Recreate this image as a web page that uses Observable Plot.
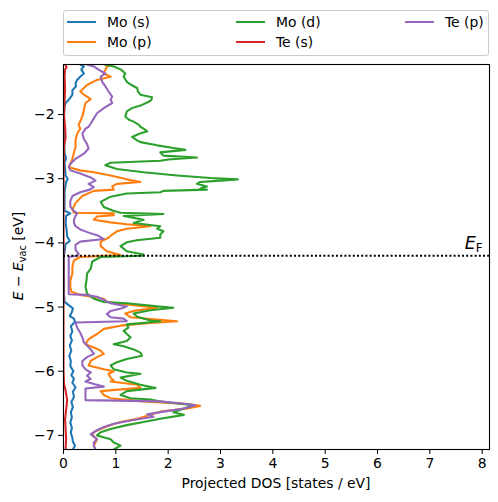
<!DOCTYPE html>
<html><head><meta charset="utf-8">
<script src="https://cdn.jsdelivr.net/npm/d3@7"></script>
<script src="https://cdn.jsdelivr.net/npm/@observablehq/plot@0.6"></script>
<style>
body{margin:0;background:#fff;font-family:"DejaVu Sans",sans-serif;}
#legend{position:relative;width:498px;height:60px;font-size:13.9px;color:#000;}
#box{position:absolute;left:63px;top:10px;width:424px;height:44px;border:1px solid #cccccc;border-radius:3px;}
.sw{position:absolute;height:0;width:29px;border-top:2px solid;}
.lb{position:absolute;line-height:16px;white-space:nowrap;}
#chart svg{display:block;}
</style></head><body>
<div id="legend"><div id="box"></div></div>
<div id="chart"></div>
<script>
// ---- data (energies in eV, DOS in states/eV) ----
const seriesNames = ["Mo (s)", "Mo (p)", "Mo (d)", "Te (s)", "Te (p)"];
const seriesColors = ["#1f77b4", "#ff7f0e", "#2ca02c", "#d62728", "#9467bd"];
const xTicks = [0, 1, 2, 3, 4, 5, 6, 7, 8];
const yTicks = [-7, -6, -5, -4, -3, -2];
const fermiLevel = -4.20;

const moS_E = [-1.22,-1.25,-1.30,-1.36,-1.41,-1.46,-1.51,-1.56,-1.62,-1.69,-1.77,-1.82,-1.88,-2.0,-2.3,-2.6,-2.68,-2.75,-2.95,-3.0,-3.05,-3.2,-3.5,-3.54,-3.58,-3.7,-3.8,-3.9,-3.97,-4.02,-4.2,-4.8,-4.92,-4.97,-5.02,-5.08,-5.14,-5.18,-5.23,-5.30,-5.38,-5.45,-5.52,-5.60,-5.68,-5.76,-5.84,-5.92,-6.00,-6.06,-6.12,-6.18,-6.25,-6.32,-6.40,-6.48,-6.56,-6.64,-6.72,-6.80,-6.88,-6.96,-7.04,-7.10,-7.16,-7.22];
const moS_dos = [0.32,0.39,0.34,0.39,0.32,0.26,0.23,0.24,0.17,0.17,0.10,0.04,0.02,0.01,0.01,0.02,0.05,0.02,0.04,0.08,0.05,0.02,0.02,0.13,0.05,0.04,0.06,0.07,0.12,0.04,0.01,0.01,0.02,0.10,0.18,0.16,0.12,0.20,0.22,0.14,0.17,0.13,0.16,0.12,0.15,0.11,0.14,0.13,0.19,0.15,0.20,0.17,0.23,0.18,0.20,0.15,0.18,0.14,0.16,0.13,0.16,0.14,0.17,0.18,0.22,0.18];

const moP_E = [-1.22,-1.25,-1.30,-1.36,-1.41,-1.46,-1.54,-1.64,-1.69,-1.76,-1.82,-1.93,-2.03,-2.16,-2.22,-2.30,-2.40,-2.51,-2.59,-2.69,-2.77,-2.82,-2.87,-2.90,-2.95,-3.01,-3.05,-3.08,-3.12,-3.17,-3.19,-3.27,-3.38,-3.48,-3.53,-3.54,-3.57,-3.59,-3.64,-3.68,-3.71,-3.74,-3.78,-3.82,-3.87,-3.92,-3.98,-4.05,-4.13,-4.19,-4.22,-4.27,-4.37,-4.48,-4.58,-4.68,-4.76,-4.81,-4.87,-4.92,-4.97,-5.01,-5.06,-5.10,-5.16,-5.22,-5.25,-5.29,-5.34,-5.42,-5.50,-5.58,-5.63,-5.68,-5.73,-5.78,-5.84,-5.91,-5.97,-6.00,-6.04,-6.10,-6.15,-6.16,-6.21,-6.26,-6.31,-6.37,-6.42,-6.47,-6.51,-6.54,-6.58,-6.63,-6.68,-6.74,-6.79,-6.84,-6.90,-6.95,-7.00,-7.06,-7.11,-7.16,-7.22];
const moP_dos = [0.92,0.83,0.80,0.77,0.90,0.64,0.45,0.32,0.39,0.52,0.42,0.39,0.36,0.29,0.32,0.26,0.23,0.23,0.20,0.17,0.13,0.10,0.32,0.58,0.90,1.21,1.47,1.02,0.93,0.96,0.58,0.36,0.23,0.17,0.20,0.96,0.96,0.64,0.58,0.90,1.21,1.66,1.21,1.02,0.93,0.86,0.71,0.71,0.83,1.09,0.32,0.20,0.17,0.17,0.13,0.13,0.15,0.32,0.77,0.83,1.34,1.79,1.34,1.18,1.28,2.17,1.60,1.09,0.77,0.64,0.48,0.42,0.58,0.71,0.77,0.64,0.52,0.48,0.77,0.96,0.86,0.90,0.96,0.90,1.41,1.47,0.71,0.77,0.90,1.53,2.36,2.61,2.36,1.85,1.66,1.41,1.09,0.90,0.71,0.58,0.55,0.64,0.61,0.58,0.61];

const moD_E = [-1.22,-1.25,-1.30,-1.36,-1.41,-1.49,-1.54,-1.59,-1.64,-1.69,-1.73,-1.77,-1.80,-1.85,-1.90,-1.95,-2.03,-2.08,-2.11,-2.16,-2.19,-2.22,-2.26,-2.30,-2.35,-2.40,-2.43,-2.48,-2.52,-2.55,-2.59,-2.64,-2.67,-2.70,-2.72,-2.75,-2.79,-2.85,-2.90,-2.95,-2.99,-3.01,-3.03,-3.05,-3.08,-3.12,-3.14,-3.16,-3.17,-3.19,-3.21,-3.23,-3.28,-3.36,-3.44,-3.50,-3.53,-3.55,-3.58,-3.64,-3.69,-3.74,-3.78,-3.82,-3.87,-3.92,-3.96,-3.99,-4.05,-4.13,-4.18,-4.20,-4.22,-4.29,-4.40,-4.48,-4.58,-4.68,-4.79,-4.87,-4.92,-4.94,-4.99,-5.01,-5.05,-5.10,-5.15,-5.21,-5.22,-5.25,-5.27,-5.32,-5.37,-5.42,-5.47,-5.53,-5.58,-5.61,-5.66,-5.71,-5.76,-5.81,-5.86,-5.91,-5.97,-6.02,-6.04,-6.10,-6.15,-6.21,-6.26,-6.31,-6.37,-6.42,-6.44,-6.48,-6.53,-6.58,-6.64,-6.68,-6.74,-6.79,-6.84,-6.90,-6.95,-7.00,-7.06,-7.11,-7.16,-7.22];
const moD_dos = [0.78,0.96,1.10,1.18,1.15,1.21,1.30,1.41,1.42,1.47,1.69,1.68,1.63,1.50,1.31,1.21,1.18,1.25,1.34,1.44,1.47,1.53,1.60,1.45,1.31,1.40,1.47,1.79,2.10,2.33,1.85,1.91,2.55,2.00,1.85,0.90,0.80,1.02,1.53,2.17,2.81,3.33,3.00,2.61,2.55,2.74,2.65,2.61,2.74,1.91,1.85,1.21,0.90,0.71,0.77,0.95,1.09,1.91,1.15,1.53,1.34,1.85,1.79,1.91,1.85,1.85,1.40,1.21,1.09,1.21,1.53,1.50,0.71,0.55,0.52,0.45,0.44,0.42,0.45,0.58,0.77,1.21,1.79,2.10,1.66,1.34,1.41,1.66,1.85,1.50,1.21,1.24,1.15,1.21,1.28,1.21,0.96,1.15,1.34,1.47,1.50,1.21,1.02,0.90,0.96,1.21,1.47,1.09,1.21,1.47,1.76,1.21,1.09,1.28,1.66,1.91,2.49,2.30,2.10,2.30,1.85,1.53,1.21,0.90,0.71,0.64,0.90,0.96,1.09,0.96];

const teS_E = [-1.22,-1.26,-1.30,-1.40,-1.60,-1.80,-2.0,-2.2,-2.35,-2.5,-3.0,-4.0,-5.0,-6.0,-6.2,-6.3,-6.45,-6.6,-6.75,-6.9,-7.05,-7.22];
const teS_dos = [0.03,0.06,0.03,0.02,0.03,0.02,0.01,0.03,0.04,0.01,0.0,0.0,0.0,0.0,0.01,0.04,0.07,0.05,0.03,0.04,0.05,0.04];

const teP_E = [-1.22,-1.25,-1.30,-1.36,-1.41,-1.49,-1.56,-1.64,-1.72,-1.77,-1.82,-1.90,-1.98,-2.06,-2.14,-2.19,-2.22,-2.30,-2.38,-2.46,-2.53,-2.61,-2.69,-2.77,-2.82,-2.87,-2.92,-2.98,-3.03,-3.08,-3.13,-3.17,-3.21,-3.27,-3.35,-3.43,-3.48,-3.54,-3.58,-3.64,-3.69,-3.74,-3.79,-3.84,-3.89,-3.94,-3.98,-4.03,-4.11,-4.17,-4.20,-4.22,-4.32,-4.48,-4.63,-4.80,-4.81,-4.84,-4.89,-4.94,-4.99,-5.02,-5.06,-5.11,-5.16,-5.18,-5.22,-5.24,-5.32,-5.40,-5.47,-5.55,-5.60,-5.66,-5.73,-5.78,-5.84,-5.91,-5.97,-6.02,-6.07,-6.12,-6.16,-6.20,-6.24,-6.27,-6.37,-6.45,-6.47,-6.51,-6.53,-6.58,-6.63,-6.67,-6.71,-6.76,-6.82,-6.87,-6.92,-6.98,-7.02,-7.06,-7.11,-7.16,-7.22];
const teP_dos = [0.45,0.58,0.67,0.80,0.71,0.74,0.80,0.86,0.93,0.90,0.93,0.77,0.64,0.58,0.52,0.48,0.42,0.36,0.39,0.45,0.48,0.39,0.23,0.13,0.10,0.13,0.32,0.52,0.61,0.48,0.58,0.50,0.32,0.17,0.13,0.13,0.17,0.26,0.23,0.20,0.20,0.23,0.32,0.48,0.67,0.77,0.32,0.23,0.23,0.29,0.26,0.10,0.10,0.10,0.10,0.10,0.42,0.64,0.77,0.90,1.21,1.12,0.90,0.83,0.90,1.15,1.21,0.23,0.26,0.32,0.36,0.39,0.45,0.52,0.58,0.45,0.36,0.36,0.42,0.52,0.45,0.52,0.42,0.58,0.77,0.42,0.42,0.42,1.85,2.36,2.52,2.30,1.91,1.60,1.72,1.34,0.96,0.77,0.64,0.52,0.58,0.64,0.58,0.58,0.61];

// ---- build ----
const seriesE = [moS_E, moP_E, moD_E, teS_E, teP_E];
const seriesDos = [moS_dos, moP_dos, moD_dos, teS_dos, teP_dos];
const tables = seriesNames.map((n, k) => seriesE[k].map((e, i) => ({name: n, E: e, dos: seriesDos[k][i]})));

const minus = d => d < 0 ? "\u2212" + Math.abs(d) : String(d);

const plot = Plot.plot({
  width: 498, height: 442,
  marginTop: 4, marginBottom: 53, marginLeft: 63, marginRight: 9,
  style: {fontFamily: "DejaVu Sans", fontSize: "13.9px", color: "#000", background: "#fff", overflow: "visible"},
  x: {domain: [0, 8.14], label: null},
  y: {domain: [-7.22, -1.22], label: null},
  marks: [
    ...tables.map((t, k) => Plot.line(t, {x: "dos", y: "E", stroke: seriesColors[k], strokeWidth: 2.08, strokeLinejoin: "round", clip: "frame"})),
    Plot.ruleY([fermiLevel], {stroke: "#000", strokeWidth: 2.08, strokeDasharray: "2,2.2"}),
    Plot.frame({stroke: "#000", strokeWidth: 1.1}),
    Plot.axisX({ticks: xTicks, tickSize: 5, tickPadding: 4, tickFormat: minus, label: null}),
    Plot.axisY({ticks: yTicks, tickSize: 5, tickPadding: 4, tickFormat: minus, label: null})
  ]
});
document.getElementById("chart").appendChild(plot);

const svg = d3.select(plot);
const xs = plot.scale("x"), ys = plot.scale("y");

// x label
svg.append("text").attr("x", 276).attr("y", 428).attr("text-anchor", "middle")
  .attr("font-size", "13.9px").attr("fill", "#000").text("Projected DOS [states / eV]");

// y label
const yl = svg.append("text").attr("transform", "translate(23,196) rotate(-90)")
  .attr("text-anchor", "middle").attr("font-size", "13.9px").attr("fill", "#000");
yl.append("tspan").attr("font-style", "italic").text("E");
yl.append("tspan").text(" \u2212 ");
yl.append("tspan").attr("font-style", "italic").text("E");
yl.append("tspan").attr("dy", "3").attr("font-size", "9.7px").text("vac");
yl.append("tspan").attr("dy", "-3").text(" [eV]");

// E_F label
const ef = svg.append("text").attr("x", xs.apply(8.02)).attr("y", ys.apply(fermiLevel) - 6)
  .attr("text-anchor", "end").attr("font-size", "17.5px").attr("fill", "#000");
ef.append("tspan").attr("font-style", "italic").text("E");
ef.append("tspan").attr("dy", "3").attr("font-size", "12px").text("F");

// legend
const legend = document.getElementById("legend");
const pos = [[67, 22], [67, 42], [236, 22], [236, 42], [405, 22]];
seriesNames.forEach((n, k) => {
  const [x, y] = pos[k];
  const sw = document.createElement("div");
  sw.className = "sw"; sw.style.left = x + "px"; sw.style.top = (y - 1) + "px"; sw.style.borderColor = seriesColors[k];
  legend.appendChild(sw);
  const lb = document.createElement("div");
  lb.className = "lb"; lb.style.left = (x + 40) + "px"; lb.style.top = (y - 8) + "px"; lb.textContent = n;
  legend.appendChild(lb);
});
</script>
</body></html>
